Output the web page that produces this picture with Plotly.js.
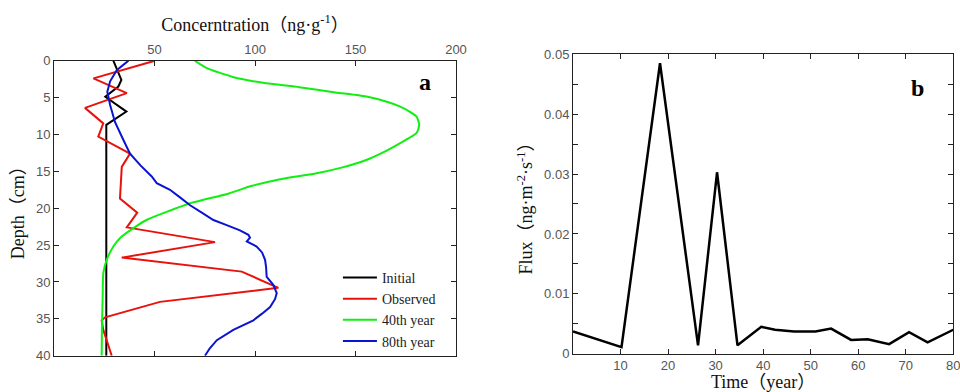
<!DOCTYPE html>
<html><head><meta charset="utf-8">
<script src="https://cdn.plot.ly/plotly-3.0.1.min.js"></script>
<style>html,body{margin:0;padding:0;background:#fff}#c{width:960px;height:392px}</style>
</head><body><div id="c"></div>
<script>
// Panel a: concentration (ng/g) vs depth (cm)
const initialDepth = [0, 2.6, 3.5, 4.9, 6.9, 8.7, 40];
const initialConc  = [29.5, 33.5, 32, 25.5, 36, 26, 26];

const observedDepth = [0, 2.4, 4.4, 6.4, 8.5, 10.3, 12.6, 14.4, 18.7, 20.6, 22.6, 24.6, 26.7, 28.6, 30.8, 32.7, 34.8, 35.2, 36.5, 40];
const observedConc  = [50.2, 19.6, 36.2, 15.4, 24.5, 22, 37.8, 33.7, 32.8, 41.4, 36.2, 80.1, 33.7, 93.4, 111.6, 52.7, 25.4, 23.7, 24.5, 28.7];

const year40Depth = [0, 1, 2.2, 3, 3.6, 4.3, 4.9, 5.6, 6.2, 7, 7.6, 8.7, 9.8, 11.2, 12.4, 13.5, 14.5, 15.3, 16.1, 17, 18, 19.4, 20.5, 21.6, 22.7, 24, 25.2, 27, 28.8, 32, 34.3, 37, 40];
const year40Conc  = [70, 76, 89, 104, 122, 140, 156, 166, 172, 177.5, 180.4, 181.7, 180.4, 172, 164, 155, 143, 130, 112, 98, 87, 67, 56, 46, 39.5, 33, 29.5, 26.2, 24.5, 24.2, 24, 23.8, 23.7];

const year80Depth = [0, 1.3, 2.8, 4.2, 6, 8.3, 10.75, 12.6, 14.2, 15.7, 16.6, 17.5, 18.5, 19.6, 20.6, 21.6, 22.3, 23, 23.6, 24, 24.5, 25.2, 26, 27, 28, 29.3, 30.4, 31.5, 32.3, 33.4, 34.3, 35.2, 36.5, 37.9, 39, 40];
const year80Conc  = [37, 31.2, 27.9, 26.5, 27.9, 30.3, 34.5, 37.8, 43, 48.6, 51.1, 57.7, 62.5, 67.7, 73.5, 79.3, 85.9, 92.5, 96.7, 97.5, 95.9, 100.8, 103.5, 105, 105.5, 105.8, 109.1, 110.8, 110, 107.5, 103.5, 99.2, 89.2, 81, 77.5, 75.1];

const seriesNames = ["Initial", "Observed", "40th year", "80th year"];
const concTicks = [50, 100, 150, 200];
const depthTicks = [0, 5, 10, 15, 20, 25, 30, 35, 40];

// Panel b: flux vs time
const timeYears = [0, 10.2, 18.3, 26.3, 30.3, 34.6, 39.6, 42.5, 46.5, 51, 54.3, 58.5, 62, 66.5, 70.7, 74.6, 80];
const fluxVals  = [0.0037, 0.0011, 0.0485, 0.0014, 0.0303, 0.0014, 0.0045, 0.0040, 0.0037, 0.0037, 0.0042, 0.0023, 0.0024, 0.0016, 0.0036, 0.0019, 0.0040];
const timeTicks = [10, 20, 30, 40, 50, 60, 70, 80];
const fluxTicks = [0, 0.01, 0.02, 0.03, 0.04, 0.05];

const serif = '"Liberation Serif", "Times New Roman", "Noto Sans CJK SC", serif';
const sans = '"Liberation Sans", Arial, sans-serif';
const tickFont = {family: sans, size: 13, color: '#555'};
const titleFont = {family: serif, size: 18, color: '#111'};

const lineW = 2;
const traces = [
  {x: initialConc, y: initialDepth, name: seriesNames[0], mode: 'lines', line: {color: '#000000', width: lineW}, xaxis: 'x', yaxis: 'y'},
  {x: observedConc, y: observedDepth, name: seriesNames[1], mode: 'lines', line: {color: '#e8120c', width: lineW}, xaxis: 'x', yaxis: 'y'},
  {x: year40Conc, y: year40Depth, name: seriesNames[2], mode: 'lines', line: {color: '#11ee11', width: lineW, shape: 'spline', smoothing: 0.6}, xaxis: 'x', yaxis: 'y'},
  {x: year80Conc, y: year80Depth, name: seriesNames[3], mode: 'lines', line: {color: '#0a14d0', width: lineW}, xaxis: 'x', yaxis: 'y'},
  {x: timeYears, y: fluxVals, name: 'Flux', mode: 'lines', showlegend: false, line: {color: '#000000', width: 2.5}, xaxis: 'x2', yaxis: 'y2'}
];

const axCommon = {showline: true, linecolor: '#222', linewidth: 1, mirror: 'ticks', ticks: 'inside', ticklen: 5, tickcolor: '#222', showgrid: false, zeroline: false, tickfont: tickFont, ticklabeloverflow: 'allow'};

const layout = {
  width: 960, height: 392,
  margin: {l: 0, r: 0, t: 0, b: 0},
  paper_bgcolor: '#fff', plot_bgcolor: '#fff',
  showlegend: true,
  legend: {x: 0.352, y: 0.332, xanchor: 'left', yanchor: 'top', bgcolor: 'rgba(0,0,0,0)', font: {family: serif, size: 14, color: '#222'}, tracegroupgap: 0, itemwidth: 34},
  xaxis: Object.assign({}, axCommon, {
    domain: [0.0563, 0.475], range: [0, 200], side: 'top', anchor: 'y', tickvals: concTicks,
    title: {text: 'Concerntration（ng·g<sup>-1</sup>）', font: titleFont, standoff: 6}
  }),
  yaxis: Object.assign({}, axCommon, {
    domain: [0.0926, 0.8452], range: [40, 0], anchor: 'x', tickvals: depthTicks,
    title: {text: 'Depth（cm）', font: titleFont, standoff: 6}
  }),
  xaxis2: Object.assign({}, axCommon, {
    domain: [0.5969, 0.993], range: [0, 80], anchor: 'y2', tickvals: timeTicks,
    title: {text: 'Time（year）', font: titleFont, standoff: 0}
  }),
  yaxis2: Object.assign({}, axCommon, {
    domain: [0.0977, 0.8615], range: [0, 0.05], anchor: 'x2', tickvals: fluxTicks,
    minor: {dtick: 0.005, ticks: 'inside', ticklen: 5, tickcolor: '#222'},
    title: {text: 'Flux（ng·m<sup>-2</sup>·s<sup>-1</sup>）', font: titleFont, standoff: 6}
  }),
  annotations: [
    {text: '<b>a</b>', xref: 'paper', yref: 'paper', x: 425/960, y: (392-82)/392, xanchor: 'center', yanchor: 'middle', showarrow: false, font: {family: serif, size: 24, color: '#000'}},
    {text: '<b>b</b>', xref: 'paper', yref: 'paper', x: 917/960, y: (392-88)/392, xanchor: 'center', yanchor: 'middle', showarrow: false, font: {family: serif, size: 24, color: '#000'}}
  ]
};

Plotly.newPlot('c', traces, layout, {staticPlot: true, displayModeBar: false});
</script>
</body></html>
